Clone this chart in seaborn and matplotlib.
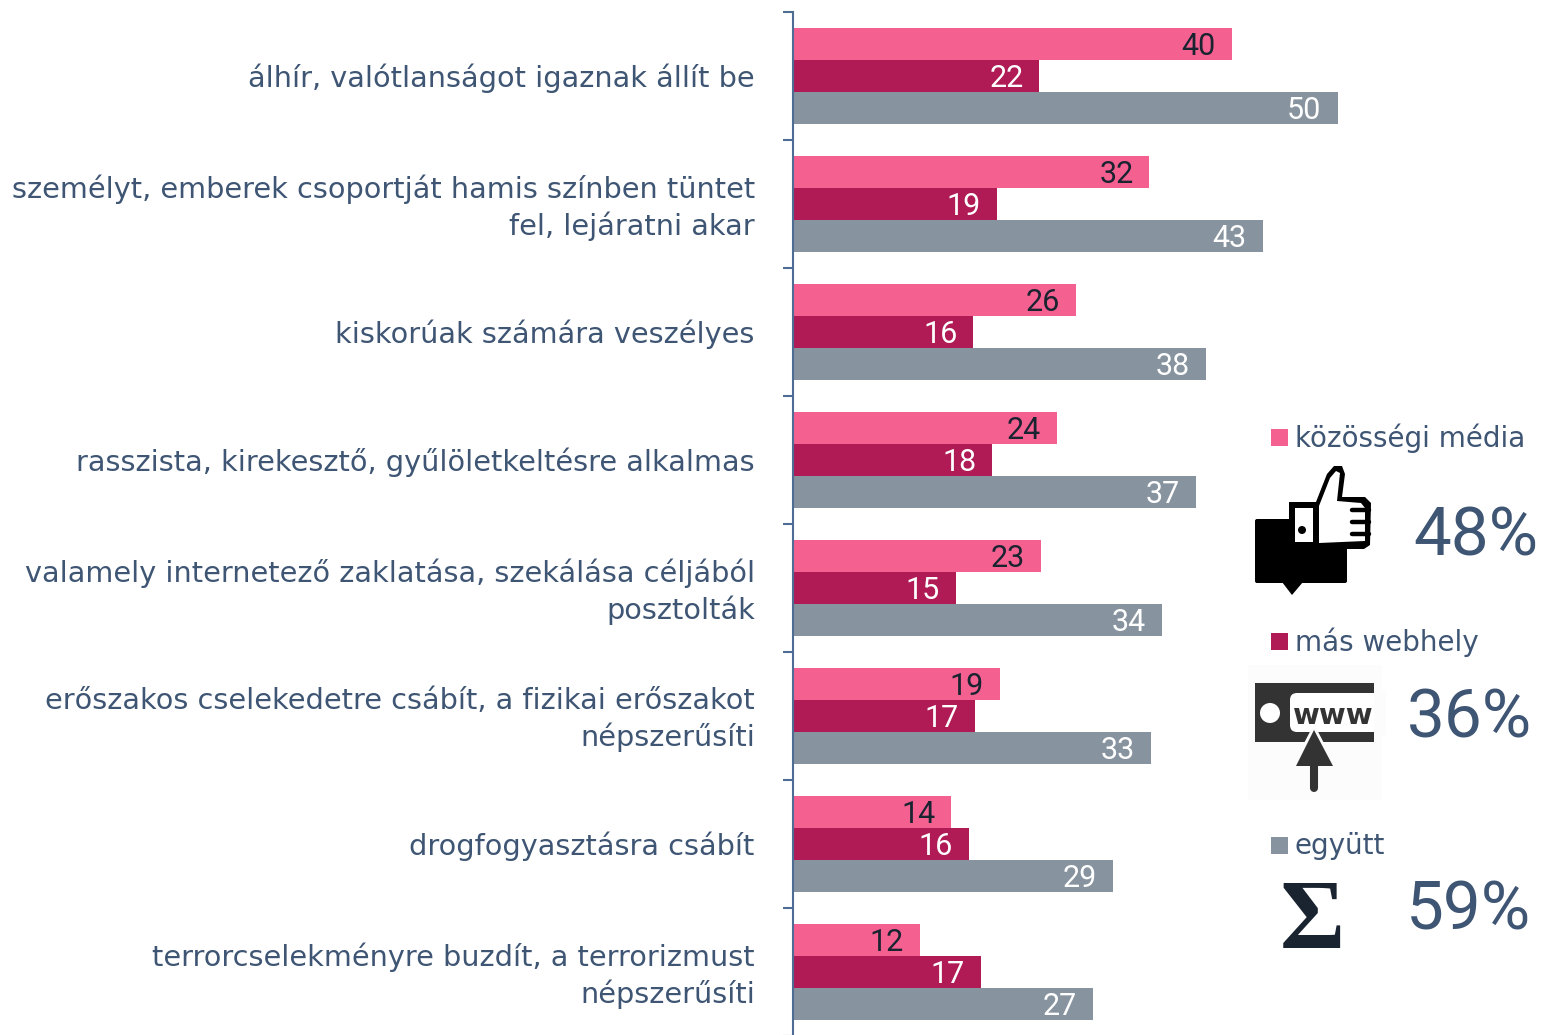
import pandas as pd
import matplotlib
matplotlib.use("Agg")
import matplotlib.pyplot as plt
from matplotlib.patches import Polygon, Rectangle, Circle, FancyBboxPatch
from matplotlib.transforms import ScaledTranslation
import seaborn as sns

categories = [
    "álhír, valótlanságot igaznak állít be",
    "személyt, emberek csoportját hamis színben tüntet\nfel, lejáratni akar",
    "kiskorúak számára veszélyes",
    "rasszista, kirekesztő, gyűlöletkeltésre alkalmas",
    "valamely internetező zaklatása, szekálása céljából\nposztolták",
    "erőszakos cselekedetre csábít, a fizikai erőszakot\nnépszerűsíti",
    "drogfogyasztásra csábít",
    "terrorcselekményre buzdít, a terrorizmust\nnépszerűsíti",
]
series_names = ["közösségi média", "más webhely", "együtt"]
social_vals = [39.9, 32.4, 25.7, 24.0, 22.5, 18.8, 14.4, 11.5]
web_vals = [22.4, 18.5, 16.4, 18.1, 14.8, 16.5, 16.0, 17.1]
both_vals = [49.5, 42.7, 37.5, 36.6, 33.5, 32.5, 29.1, 27.3]
social_labels = [40, 32, 26, 24, 23, 19, 14, 12]
web_labels = [22, 19, 16, 18, 15, 17, 16, 17]
both_labels = [50, 43, 38, 37, 34, 33, 29, 27]
totals = ["48%", "36%", "59%"]
colors = ["#F46191", "#B01A55", "#87939F"]

TEXT = "#3E5574"
DARK = "#1A2330"
AXIS = "#4F6D94"
W, H = 1543, 1035
FONT = "DejaVu Sans"
NUMFONT = "Roboto"

sns.set_theme(style="white")
plt.rcParams["font.family"] = [FONT]

df = pd.DataFrame({
    "cat": categories * 3,
    "series": [s for s in series_names for _ in categories],
    "val": social_vals + web_vals + both_vals,
})

fig = plt.figure(figsize=(W / 100, H / 100), dpi=100)
ax = fig.add_axes([793 / W, (H - 1036) / H, 750 / W, 1024 / H])
sns.barplot(data=df, y="cat", x="val", hue="series", hue_order=series_names,
            order=categories, palette=colors, width=0.75, gap=0, errorbar=None,
            saturation=1, orient="h", legend=False, ax=ax, linewidth=0)
ax.set_xlim(0, 750 / 11)
ax.set_ylim(7.5, -0.5)
ax.set_xlabel("")
ax.set_ylabel("")
ax.xaxis.set_visible(False)
for s in ["top", "right", "bottom"]:
    ax.spines[s].set_visible(False)
ax.spines["left"].set_color(AXIS)
ax.spines["left"].set_linewidth(1.5)
ax.set_yticks([i - 0.5 for i in range(9)], minor=True)
ax.tick_params(axis="y", which="minor", length=7.2, width=1.5, color=AXIS, left=True)
ax.tick_params(axis="y", which="major", length=0, pad=27.5, labelsize=20.7, labelcolor=TEXT)
for t in ax.get_yticklabels():
    t.set_horizontalalignment("right")
    t.set_multialignment("right")
    t.set_linespacing(1.3)
    shift_px = 3 if "\n" in t.get_text() else 0.5
    t.set_transform(t.get_transform() + ScaledTranslation(0, shift_px / 100, fig.dpi_scale_trans))

for cont, labs, col in zip(ax.containers, [social_labels, web_labels, both_labels],
                           [DARK, "white", "white"]):
    for t in ax.bar_label(cont, labels=[str(v) for v in labs], padding=-11.5,
                          color=col, fontsize=22, fontfamily=NUMFONT):
        t.set_ha("right")
        t.xyann = (-11.5, -1.5)

# overlay in pixel coordinates for the key and pictograms
ov = fig.add_axes([0, 0, 1, 1], zorder=5)
ov.set_xlim(0, W)
ov.set_ylim(H, 0)
ov.axis("off")
ov.patch.set_alpha(0)

for name, col, y in zip(series_names, colors, [437, 641, 845]):
    ov.add_patch(Rectangle((1271, y - 8.5), 17, 17, color=col, lw=0))
    ov.text(1295, y - 2, name, color=TEXT, fontsize=20, va="center_baseline", ha="left")

for txt, x, y in zip(totals, [1538.5, 1531.5, 1531.5], [531, 713, 905]):
    ov.text(x, y, txt, color=TEXT, fontsize=48.5, fontfamily=NUMFONT,
            va="center_baseline", ha="right")

# thumbs-up
ov.add_patch(FancyBboxPatch((1255, 519), 92, 64, boxstyle="round,pad=0,rounding_size=2", color="black", lw=0))
ov.add_patch(Polygon([(1282, 582), (1303, 582), (1292, 595)], color="black", lw=0))
ov.add_patch(Rectangle((1289, 502), 30, 30, color="black", lw=0))
ov.add_patch(Polygon([(1316, 502), (1327, 474), (1334, 466), (1342, 466), (1345, 474), (1342, 497),
                      (1365, 497), (1371, 503), (1370, 545), (1364, 549), (1316, 549)], color="black", lw=0))
ov.add_patch(Polygon([(1319, 506), (1330, 478), (1336, 471), (1340, 473), (1337, 501),
                      (1361, 503), (1365, 508), (1365, 541), (1319, 543)], color="white", lw=0))
ov.add_patch(Rectangle((1295, 508), 18, 34, color="white", lw=0))
ov.add_patch(Circle((1302, 530), 4, color="black", lw=0))
for y in [510, 522, 534]:
    ov.plot([1352, 1369], [y, y], color="black", lw=3.2, solid_capstyle="round")

# www pictogram
ov.add_patch(Rectangle((1248, 665), 134, 135, color="#FCFCFC", lw=0))
ov.add_patch(Rectangle((1255, 683), 119, 59, color="#333333", lw=0))
ov.add_patch(FancyBboxPatch((1290, 693), 100, 39, boxstyle="round,pad=0,rounding_size=7", color="white", lw=0))
ov.add_patch(Rectangle((1374, 690), 12, 45, color="#FCFCFC", lw=0))
ov.add_patch(Circle((1270, 713), 10, color="white", lw=0))
ov.text(1333, 713, "www", color="#333333", fontsize=21, fontweight="bold",
        fontfamily="DejaVu Sans", ha="center", va="center_baseline")
ov.add_patch(Polygon([(1314, 724), (1290, 770), (1338, 770)], color="#FCFCFC", lw=0))
ov.add_patch(Polygon([(1314, 730), (1296, 766), (1333, 766)], color="#333333", lw=0))
ov.plot([1314, 1314], [762, 788], color="#333333", lw=5.8, solid_capstyle="round")

# sigma
ov.text(1312, 914, "Σ", color=DARK, fontsize=72, fontweight="bold",
        fontfamily="Liberation Serif", ha="center", va="center_baseline")

fig.savefig("out.png", dpi=100, facecolor="white")
